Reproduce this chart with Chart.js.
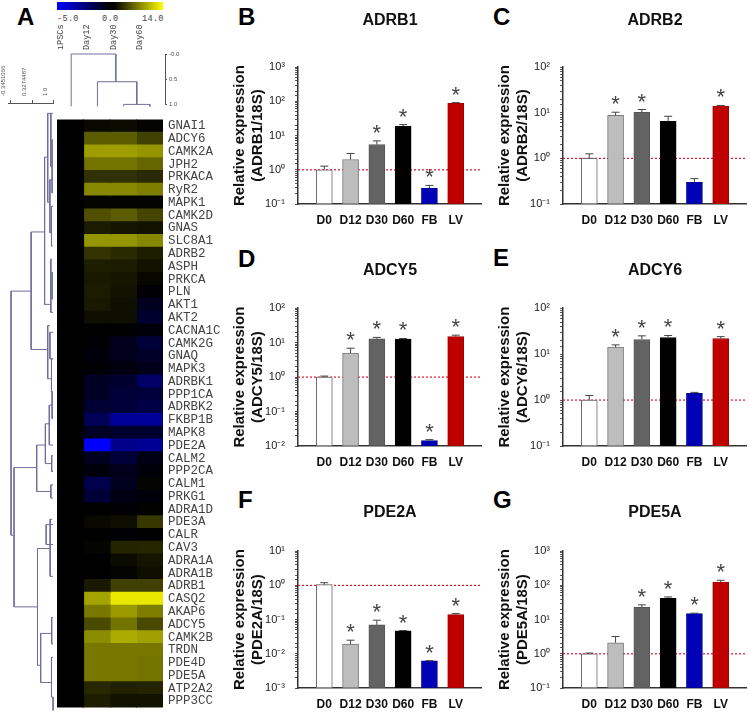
<!DOCTYPE html>
<html>
<head>
<meta charset="utf-8">
<script src="https://cdn.jsdelivr.net/npm/chart.js@4"></script>
<style>
html, body { margin: 0; background: #fff; width: 750px; height: 720px; overflow: hidden; }
canvas { position: absolute; }
.letter { position: absolute; font: bold 24px "Liberation Sans"; line-height: 28px; color: #000; }
.scaleText { position: absolute; top: 14px; font: 8.6px "Liberation Mono"; color: #444; letter-spacing: .3px; }
#colorBar { position: absolute; left: 57px; top: 2px; width: 106px; height: 8px;
  background: linear-gradient(to right, #0000ff, #000 50%, #000 54%, #ffff00); }
</style>
</head>
<body>
<div id="colorBar"></div>
<span class="scaleText" style="left:57px">-5.0</span>
<span class="scaleText" style="left:102px">0.0</span>
<span class="scaleText" style="left:142px">14.0</span>
<div class="letter" style="left:17px;top:3px">A</div>
<div class="letter" style="left:238px;top:3px">B</div>
<div class="letter" style="left:493px;top:3px">C</div>
<div class="letter" style="left:238px;top:245px">D</div>
<div class="letter" style="left:493px;top:244px">E</div>
<div class="letter" style="left:238px;top:486px">F</div>
<div class="letter" style="left:493px;top:486px">G</div>

<canvas id="rowTree" style="left:0;top:60px" width="57" height="660"></canvas>
<canvas id="colTree" style="left:57px;top:20px" width="125" height="90"></canvas>
<canvas id="heat" style="left:57px;top:107px" width="170" height="613"></canvas>
<canvas id="chartB" style="left:231px;top:11px" width="251" height="223"></canvas>
<canvas id="chartC" style="left:496px;top:11px" width="251" height="223"></canvas>
<canvas id="chartD" style="left:231px;top:261px" width="251" height="215"></canvas>
<canvas id="chartE" style="left:496px;top:261px" width="251" height="215"></canvas>
<canvas id="chartF" style="left:231px;top:503px" width="251" height="215"></canvas>
<canvas id="chartG" style="left:496px;top:503px" width="251" height="215"></canvas>

<script>
const days = ['D0', 'D12', 'D30', 'D60', 'FB', 'LV'];
const barFill = ['#ffffff', '#bdbdbd', '#636363', '#000000', '#0000b4', '#bf0000'];
const barEdge = ['#666666', '#777777', '#555555', '#000000', '#000090', '#a00000'];

const adrb1Values = [1, 2.0, 5.5, 18.8, 0.29, 88];
const adrb1Tops = [1.28, 3.0, 7, 21, 0.35, 92];
const adrb1Stars = ['D30', 'D60', 'FB', 'LV'];

const adrb2Values = [1, 8.8, 10.3, 6.5, 0.30, 14];
const adrb2Tops = [1.26, 10.3, 11.8, 8.4, 0.36, 14.5];
const adrb2Stars = ['D12', 'D30', 'LV'];

const adcy5Values = [1, 5, 12.9, 12.6, 0.0143, 15];
const adcy5Tops = [1.07, 6.9, 14.2, 13.2, 0.0153, 16.5];
const adcy5Stars = ['D12', 'D30', 'D60', 'FB', 'LV'];

const adcy6Values = [1, 14.2, 20.8, 23, 1.4, 21.9];
const adcy6Tops = [1.26, 15.9, 25, 25.5, 1.47, 24];
const adcy6Stars = ['D12', 'D30', 'D60', 'LV'];

const pde2aValues = [1.05, 0.0193, 0.07, 0.047, 0.0062, 0.14];
const pde2aTops = [1.2, 0.025, 0.096, 0.048, 0.0063, 0.15];
const pde2aStars = ['D12', 'D30', 'D60', 'FB', 'LV'];

const pde5aValues = [1, 2.1, 22.7, 42, 15, 126];
const pde5aTops = [1.05, 3.2, 27, 46, 15.4, 141];
const pde5aStars = ['D30', 'D60', 'FB', 'LV'];

const genes = ['GNAI1', 'ADCY6', 'CAMK2A', 'JPH2', 'PRKACA', 'RyR2', 'MAPK1', 'CAMK2D', 'GNAS', 'SLC8A1',
  'ADRB2', 'ASPH', 'PRKCA', 'PLN', 'AKT1', 'AKT2', 'CACNA1C', 'CAMK2G', 'GNAQ', 'MAPK3',
  'ADRBK1', 'PPP1CA', 'ADRBK2', 'FKBP1B', 'MAPK8', 'PDE2A', 'CALM2', 'PPP2CA', 'CALM1', 'PRKG1',
  'ADRA1D', 'PDE3A', 'CALR', 'CAV3', 'ADRA1A', 'ADRA1B', 'ADRB1', 'CASQ2', 'AKAP6', 'ADCY5',
  'CAMK2B', 'TRDN', 'PDE4D', 'PDE5A', 'ATP2A2', 'PPP3CC'];
const heatIpsc = [0, 0, 0, 0, 0, 0, 0, 0, 0, 0, 0, 0, 0, 0, 0, 0, 0, 0, 0, 0, 0, 0, 0,
  0, 0, 0, 0, 0, 0, 0, 0, 0, 0, 0, 0, 0, 0, 0, 0, 0, 0, 0, 0, 0, 0, 0];
const heatDay12 = [0.5, 5, 8.7, 6.3, 2.7, 7.4, 0.3, 4.4, 1.5, 8.2, 2.8, 1.6, 1.4, 1.5, 1.4, 0.7,
  0, -0.1, -0.2, -0.1, -0.7, -0.7, -1, -1.7, -0.7, -5, -0.6, -0.2, -1.5, -1.1, 0, 0.5, 0, 0.3, 0, 0,
  1.4, 9, 6.6, 4, 7.7, 6.6, 6.6, 6.6, 2.2, 1.6];
const heatDay30 = [0.6, 5, 8.7, 6.3, 2.7, 7.4, 0.3, 5, 1.1, 8.2, 2.3, 1.5, 1.2, 1, 0.8, 0.7,
  0, -0.5, -0.5, -0.3, -0.9, -1.1, -1.1, -3, -0.9, -2.7, -1.1, -0.5, -0.6, -0.4, -0.1, 0.7, -0.1, 2, 0.6, 0.2,
  3.5, 12.8, 8.5, 6.3, 9.4, 6.6, 6.6, 6.6, 1.8, 1];
const heatDay60 = [0.2, 3.5, 8.2, 5.6, 2.3, 6.9, 0.2, 3.8, 1, 7.4, 1.6, 1, 0.4, -0.1, -0.6, -0.9,
  -0.2, -1.1, -0.8, -0.5, -2, -1.2, -1.4, -3, -0.9, -2.9, -0.4, -0.2, 0.2, -0.2, 0.1, 3, 0, 2.1, 1.1, 0.8,
  3.5, 12.8, 6.9, 4, 8.8, 6.6, 6.3, 6.3, 1.9, 1];

// [bracket distance, top row, bottom row, top child distance, bottom child distance]
const rowLinks = [
  [-0.343, 13.9, 32.3, 0.30, -0.247],
  [0.30, 9.44, 18.3, 0.73, 0.83],
  [0.73, 3.8, 14.9, 0.83, 0.93],
  [0.83, 0.5, 7.2, 0.93, 0.9],
  [0.93, 0.5, 4.5, 1, 0.97],
  [0.97, 2.5, 6.5, 1, 1],
  [0.9, 5.5, 9.5, 1, 0.95],
  [0.95, 7.5, 10.5, 1, 1],
  [0.93, 11.5, 15.5, 0.97, 1],
  [0.97, 12.5, 14.5, 1, 1],
  [0.83, 16.5, 20.5, 0.9, 0.95],
  [0.9, 17, 19, 1, 1],
  [0.95, 19, 21.5, 1, 1],
  [-0.247, 27.2, 37.7, 0.477, 0.503],
  [0.477, 25.5, 29, 0.755, 0.93],
  [0.755, 23.9, 26.9, 0.88, 0.957],
  [0.88, 22.5, 25.5, 0.97, 1],
  [0.97, 21.5, 23.5, 1, 1],
  [0.957, 26.3, 27.5, 1, 1],
  [0.93, 28.5, 29.5, 1, 1],
  [0.503, 33.3, 42.1, 0.907, 0.604],
  [0.907, 31.1, 35.4, 0.97, 1],
  [0.78, 31.5, 33, 1, 1],
  [0.604, 39.7, 43.4, 0.957, 0.95],
  [0.957, 38.5, 40.5, 1, 1],
  [0.95, 41.5, 44.5, 1, 1],
  [1, 44.5, 45.5, 1, 1]
];
// [left column, right column, height, left child height, right child height]
const colLinks = [
  [0.5, 2.2, 0, 1.04, 0.55],
  [1.5, 3, 0.55, 1.04, 1],
  [2.5, 3.5, 1, 1.04, 1.04]
];
const colNames = ['iPSCs', 'Day12', 'Day30', 'Day60'];
const rowDistanceTicks = [-0.3451066, 0.3274487, 1.0];
const rowDistanceNames = ['-0.3451066', '0.3274487', '1.0'];
const colDistanceTicks = [0, 0.5, 1];
const colDistanceNames = ['-0.0', '0.5', '1.0'];

Chart.defaults.font.family = 'Liberation Sans';
Chart.defaults.animation = false;
Chart.defaults.responsive = false;
Chart.defaults.plugins.legend.display = false;
Chart.defaults.plugins.tooltip.enabled = false;

function heatColor(v) {
  if (v < 0) return 'rgb(0,0,' + Math.round(-v / 5 * 255) + ')';
  const c = Math.round(v / 14 * 255);
  return 'rgb(' + c + ',' + c + ',0)';
}

function superscript(n) {
  const map = { '-': '\u207b', '0': '\u2070', '1': '\u00b9', '2': '\u00b2', '3': '\u00b3' };
  return String(n).split('').map(function (c) { return map[c]; }).join('');
}

const errorAndStars = {
  id: 'errorAndStars',
  afterDatasetsDraw(chart, args, opts) {
    const ctx = chart.ctx;
    const x = chart.scales.x;
    const y = chart.scales.y;
    ctx.save();
    opts.tops.forEach(function (top, i) {
      const px = x.getPixelForValue(i);
      const pTop = y.getPixelForValue(top);
      const pBar = y.getPixelForValue(opts.values[i]);
      ctx.strokeStyle = '#444';
      ctx.lineWidth = 1;
      ctx.beginPath();
      ctx.moveTo(px, pBar);
      ctx.lineTo(px, pTop);
      ctx.moveTo(px - 4, pTop);
      ctx.lineTo(px + 4, pTop);
      ctx.stroke();
      if (opts.stars.includes(days[i])) {
        ctx.fillStyle = '#444';
        ctx.font = '22px "Liberation Sans"';
        ctx.textAlign = 'center';
        ctx.textBaseline = 'alphabetic';
        ctx.fillText('*', px, pTop - 1);
      }
    });
    ctx.restore();
  }
};

function makePanel(id, title, yText, values, tops, stars, yMin, yMax, titleGap) {
  new Chart(document.getElementById(id), {
    type: 'bar',
    plugins: [errorAndStars],
    data: {
      datasets: [{
        data: values.map(function (v, i) { return { x: i, y: v }; }),
        backgroundColor: barFill,
        borderColor: barEdge,
        borderWidth: 1,
        borderSkipped: false,
        barThickness: 16
      }, {
        type: 'line',
        data: [{ x: -1, y: 1 }, { x: 6, y: 1 }],
        borderColor: '#e8112d',
        borderWidth: 1.2,
        borderDash: [2, 2],
        pointRadius: 0
      }]
    },
    options: {
      layout: { padding: 0 },
      plugins: {
        title: {
          display: true,
          text: title,
          fullSize: false,
          color: '#111',
          font: { size: 16, weight: 'bold' },
          padding: { top: 0, bottom: titleGap }
        },
        errorAndStars: { values: values, tops: tops, stars: stars }
      },
      scales: {
        x: {
          type: 'linear',
          offset: false,
          min: -1,
          max: 6,
          grid: { display: false, drawTicks: false },
          border: { color: '#333', width: 1.5 },
          afterFit(scale) {
            scale.height = 30;
            scale.paddingLeft = 0;
            scale.paddingRight = 0;
          },
          ticks: {
            stepSize: 1,
            autoSkip: false,
            maxRotation: 0,
            padding: 9,
            color: '#111',
            font: { size: 12, weight: 'bold' },
            callback(v) { return days[v] || ''; }
          }
        },
        y: {
          type: 'logarithmic',
          min: yMin,
          max: yMax,
          grid: { drawOnChartArea: false, tickLength: 3, tickColor: '#555' },
          border: { color: '#333', width: 1.5 },
          afterFit(scale) { scale.width = 67; },
          title: {
            display: true,
            text: ['Relative expression', yText],
            color: '#111',
            font: { size: 15, weight: 'bold', lineHeight: 1.2 },
            padding: 0
          },
          ticks: {
            autoSkip: false,
            padding: 10,
            color: '#222',
            font: { size: 11 },
            callback(v) {
              const e = Math.log10(v);
              if (Math.abs(e - Math.round(e)) > 1e-6) return '';
              return '10' + superscript(Math.round(e));
            }
          }
        }
      }
    }
  });
}

makePanel('chartB', 'ADRB1', '(ADRB1/18S)', adrb1Values, adrb1Tops, adrb1Stars, 0.1, 1000, 37);
makePanel('chartC', 'ADRB2', '(ADRB2/18S)', adrb2Values, adrb2Tops, adrb2Stars, 0.1, 100, 37);
makePanel('chartD', 'ADCY5', '(ADCY5/18S)', adcy5Values, adcy5Tops, adcy5Stars, 0.01, 100, 28);
makePanel('chartE', 'ADCY6', '(ADCY6/18S)', adcy6Values, adcy6Tops, adcy6Stars, 0.1, 100, 28);
makePanel('chartF', 'PDE2A', '(PDE2A/18S)', pde2aValues, pde2aTops, pde2aStars, 0.001, 10, 29);
makePanel('chartG', 'PDE5A', '(PDE5A/18S)', pde5aValues, pde5aTops, pde5aStars, 0.1, 1000, 29);

// heatmap, one stacked bar series per column
const heatColumns = [heatIpsc, heatDay12, heatDay30, heatDay60];
new Chart(document.getElementById('heat'), {
  type: 'bar',
  data: {
    labels: genes,
    datasets: heatColumns.map(function (col) {
      return {
        data: genes.map(function () { return 1; }),
        backgroundColor: col.map(heatColor),
        borderWidth: 0,
        inflateAmount: 0.6,
        barPercentage: 1,
        categoryPercentage: 1
      };
    })
  },
  options: {
    indexAxis: 'y',
    layout: { padding: { bottom: 3 } },
    scales: {
      x: { display: false, stacked: true, min: 0, max: 4 },
      y: {
        stacked: true,
        position: 'right',
        grid: { display: false, drawTicks: false },
        border: { display: false },
        afterFit(scale) { scale.width = 64; },
        ticks: {
          autoSkip: false,
          padding: 5,
          color: '#444',
          font: { family: 'Liberation Mono', size: 12.5 }
        }
      }
    }
  }
});

// row dendrogram
const rowPath = rowLinks.flatMap(function (l) {
  return [{ x: l[3], y: l[1] }, { x: l[0], y: l[1] }, { x: l[0], y: l[2] }, { x: l[4], y: l[2] }, { x: NaN, y: NaN }];
});
new Chart(document.getElementById('rowTree'), {
  type: 'scatter',
  data: { datasets: [{ data: rowPath, showLine: true, borderColor: '#6f6f9e', borderWidth: 1, pointRadius: 0, clip: false }] },
  options: {
    layout: { padding: { bottom: 3 } },
    scales: {
      x: {
        type: 'linear',
        position: 'top',
        min: -0.432,
        max: 1.0076,
        grid: { drawOnChartArea: false, tickLength: 3, tickColor: '#555' },
        border: { color: '#555' },
        afterBuildTicks(scale) { scale.ticks = rowDistanceTicks.map(function (v) { return { value: v }; }); },
        afterFit(scale) { scale.height = 43; },
        ticks: {
          minRotation: 90,
          maxRotation: 90,
          autoSkip: false,
          padding: 4,
          color: '#555',
          font: { size: 6 },
          callback(v) { return rowDistanceNames[rowDistanceTicks.indexOf(v)]; }
        }
      },
      y: { display: false, reverse: true, min: -0.28, max: 46 }
    }
  }
});

// column dendrogram
const colPath = colLinks.flatMap(function (l) {
  return [{ x: l[0], y: l[3] }, { x: l[0], y: l[2] }, { x: l[1], y: l[2] }, { x: l[1], y: l[4] }, { x: NaN, y: NaN }];
});
new Chart(document.getElementById('colTree'), {
  type: 'scatter',
  data: { datasets: [{ data: colPath, showLine: true, borderColor: '#6f6f9e', borderWidth: 1, pointRadius: 0, clip: false }] },
  options: {
    layout: { padding: { bottom: 5 } },
    scales: {
      x: {
        type: 'linear',
        position: 'top',
        min: 0,
        max: 4.075,
        grid: { display: false, drawTicks: false },
        border: { display: false },
        afterBuildTicks(scale) { scale.ticks = colNames.map(function (n, i) { return { value: i + 0.5 }; }); },
        afterFit(scale) { scale.height = 34; },
        ticks: {
          minRotation: 90,
          maxRotation: 90,
          autoSkip: false,
          padding: 4,
          color: '#444',
          font: { family: 'Liberation Mono', size: 8.5 },
          callback(v) { return colNames[Math.floor(v)]; }
        }
      },
      y: {
        position: 'right',
        reverse: true,
        min: 0,
        max: 1,
        grid: { drawOnChartArea: false, tickLength: 2, tickColor: '#555' },
        border: { color: '#555' },
        afterBuildTicks(scale) { scale.ticks = colDistanceTicks.map(function (v) { return { value: v }; }); },
        afterFit(scale) { scale.width = 17; },
        ticks: {
          autoSkip: false,
          padding: 2,
          color: '#555',
          font: { size: 6 },
          callback(v) { return colDistanceNames[colDistanceTicks.indexOf(v)]; }
        }
      }
    }
  }
});
</script>
</body>
</html>
